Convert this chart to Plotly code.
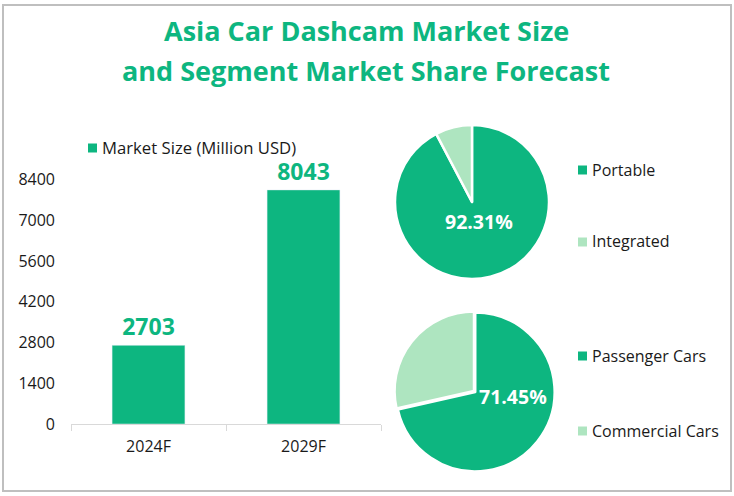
import plotly.graph_objects as go

W, H = 734, 496
GREEN = "#0DB680"
LIGHT = "#AEE5C0"
TEXT = "#1a1a1a"
FONT = "Open Sans"

years = ["2024F", "2029F"]
market_size = [2703, 8043]
y_ticks = [0, 1400, 2800, 4200, 5600, 7000, 8400]

type_labels = ["Portable", "Integrated"]
type_share = [92.31, 7.69]
vehicle_labels = ["Passenger Cars", "Commercial Cars"]
vehicle_share = [71.45, 28.55]


def px(x):
    return x / W


def py(y):
    return 1 - y / H


fig = go.Figure()
fig.add_trace(go.Bar(x=years, y=market_size, width=0.47, marker_color=GREEN,
                     text=market_size, textposition="outside", cliponaxis=False,
                     textfont=dict(size=23, color=GREEN, family=FONT, weight="bold"),
                     showlegend=False))
fig.add_trace(go.Pie(values=type_share, labels=type_labels, sort=False, direction="clockwise",
                     rotation=0, textinfo="none", showlegend=False,
                     marker=dict(colors=[GREEN, LIGHT], line=dict(color="white", width=2.5)),
                     domain=dict(x=[px(395), px(549)], y=[py(279), py(125)])))
fig.add_trace(go.Pie(values=vehicle_share, labels=vehicle_labels, sort=False, direction="clockwise",
                     rotation=0, textinfo="none", showlegend=False, pull=[0.02, 0],
                     marker=dict(colors=[GREEN, LIGHT], line=dict(color="white", width=2.5)),
                     domain=dict(x=[px(393), px(555)], y=[py(472), py(310)])))

fig.update_layout(
    width=W, height=H, autosize=False,
    margin=dict(l=0, r=0, t=0, b=0, autoexpand=False),
    paper_bgcolor="white", plot_bgcolor="white",
    font=dict(family=FONT, size=16, color=TEXT),
    xaxis=dict(domain=[px(71), px(381)], tickson="boundaries", ticks="outside", ticklen=6,
               tickcolor="#d9d9d9", linecolor="#d9d9d9", showline=True, showgrid=False,
               automargin=False, ticklabelstandoff=8, tickfont=dict(size=16, color=TEXT)),
    yaxis=dict(domain=[py(424), py(179.5)], range=[0, 8400], tickvals=y_ticks, showgrid=False,
               zeroline=False, showline=False, ticks="", automargin=False, ticklabelstandoff=15,
               tickfont=dict(size=16, color=TEXT)),
)

# outer frame
fig.add_shape(type="rect", xref="paper", yref="paper", x0=px(3), x1=px(731), y0=py(491), y1=py(5),
              line=dict(color="#bfbfbf", width=2), fillcolor="rgba(0,0,0,0)", layer="below")

# title
for text, yc in [("Asia Car Dashcam Market Size", 30), ("and Segment Market Share Forecast", 70)]:
    fig.add_annotation(text=f"<b>{text}</b>", xref="paper", yref="paper", x=px(366), y=py(yc),
                       showarrow=False, xanchor="center", yanchor="middle",
                       font=dict(size=27, color=GREEN, family=FONT))

# hand placed legend entries
legend_items = [("Market Size (Million USD)", GREEN, 88, 148, 16.7),
                (type_labels[0], GREEN, 578, 170, 16),
                (type_labels[1], LIGHT, 578, 242, 16),
                (vehicle_labels[0], GREEN, 578, 356, 16),
                (vehicle_labels[1], LIGHT, 578, 431, 16)]
for name, color, lx, ly, size in legend_items:
    fig.add_shape(type="rect", xref="paper", yref="paper", x0=px(lx), x1=px(lx + 9),
                  y0=py(ly + 4.5), y1=py(ly - 4.5), fillcolor=color, line_width=0)
    fig.add_annotation(text=name, xref="paper", yref="paper", x=px(lx + 11.5), y=py(ly - 0.5),
                       showarrow=False, xanchor="left", yanchor="middle",
                       font=dict(size=size, color=TEXT))

# share labels on the pies
for share, lx, ly in [(type_share[0], 479.5, 222), (vehicle_share[0], 513, 396)]:
    fig.add_annotation(text=f"<b>{share:.2f}%</b>", xref="paper", yref="paper", x=px(lx), y=py(ly),
                       showarrow=False, xanchor="center", yanchor="middle",
                       font=dict(size=19.5, color="white"))

# drop the default page margin so the figure fills the window
fig.write_html("out.html", config=dict(displayModeBar=False),
               post_script="document.body.style.margin='0';")
